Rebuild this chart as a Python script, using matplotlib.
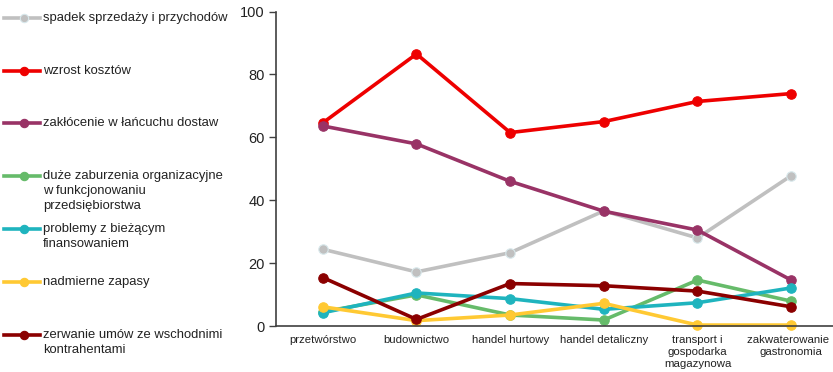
import matplotlib
matplotlib.use("Agg")
import matplotlib.pyplot as plt
from matplotlib.lines import Line2D

plt.rcParams['font.family'] = ['Liberation Sans', 'DejaVu Sans']

categories = ["przetwórstwo", "budownictwo", "handel hurtowy", "handel detaliczny",
              "transport i\ngospodarka\nmagazynowa", "zakwaterowanie i\ngastronomia"]

series_names = [
    "spadek sprzedaży i przychodów",
    "wzrost kosztów",
    "zakłócenie w łańcuchu dostaw",
    "duże zaburzenia organizacyjne\nw funkcjonowaniu\nprzedsiębiorstwa",
    "problemy z bieżącym\nfinansowaniem",
    "nadmierne zapasy",
    "zerwanie umów ze wschodnimi\nkontrahentami",
]

spadek = [24.4, 17.2, 23.3, 36.6, 28.0, 47.8]
koszty = [64.6, 86.5, 61.5, 65.0, 71.4, 73.9]
lancuch = [63.6, 57.9, 46.0, 36.5, 30.5, 14.6]
organizacyjne = [4.5, 9.9, 3.5, 1.9, 14.6, 7.9]
finansowanie = [4.2, 10.5, 8.7, 5.3, 7.4, 12.1]
zapasy = [6.1, 1.7, 3.5, 7.2, 0.3, 0.3]
umowy = [15.4, 2.1, 13.5, 12.8, 11.1, 6.1]

series_values = [spadek, koszty, lancuch, organizacyjne, finansowanie, zapasy, umowy]
colors = ["#c0c0c0", "#ee0000", "#993366", "#66bb6a", "#1fb4be", "#ffc933", "#8b0000"]
edge_colors = ["#d8e8ec", None, None, None, None, None, None]

W, H = 833, 372
fig = plt.figure(figsize=(W / 100, H / 100), dpi=100)
ax = fig.add_axes([276 / W, 1 - 326 / H, (838 - 276) / W, (326 - 11.5) / H])

x = list(range(len(categories)))
for vals, c, ec in zip(series_values, colors, edge_colors):
    ax.plot(x, vals, color=c, lw=2.6, marker='o', ms=6.8,
            markerfacecolor=c, markeredgecolor=ec if ec else c,
            markeredgewidth=0.8, solid_capstyle='round', clip_on=False)

ax.set_xlim(-0.5, len(categories) - 0.5)
ax.set_ylim(0, 100)
ax.set_yticks(range(0, 101, 20))
ax.set_xticks(x)
ax.set_xticklabels(categories, fontsize=8.2, linespacing=1.22)
ax.tick_params(axis='x', length=0, pad=6.5, colors='#222222')
ax.tick_params(axis='y', length=5, width=1, direction='out', labelsize=10.5,
               colors='#404040', labelcolor='#222222', pad=3)
for s in ['top', 'right']:
    ax.spines[s].set_visible(False)
for s in ['left', 'bottom']:
    ax.spines[s].set_color('#404040')
    ax.spines[s].set_linewidth(1.2)

# Hand-placed legend on the left
legend_y = [17.5, 70.5, 122.5, 175.5, 229, 281.5, 334.5]
for name, c, ec, yp in zip(series_names, colors, edge_colors, legend_y):
    yf = 1 - yp / H
    fig.add_artist(Line2D([4 / W, 40 / W], [yf, yf], transform=fig.transFigure,
                          color=c, lw=2.6))
    fig.add_artist(Line2D([24 / W], [yf], transform=fig.transFigure, marker='o',
                          ms=6.0, color=c, markerfacecolor=c,
                          markeredgecolor=ec if ec else c, markeredgewidth=0.8))
    fig.text(43 / W, yf + 6 / H, name, fontsize=9.4, va='top', ha='left',
             color='#222222', linespacing=1.36)

fig.savefig("out.png", dpi=100)
